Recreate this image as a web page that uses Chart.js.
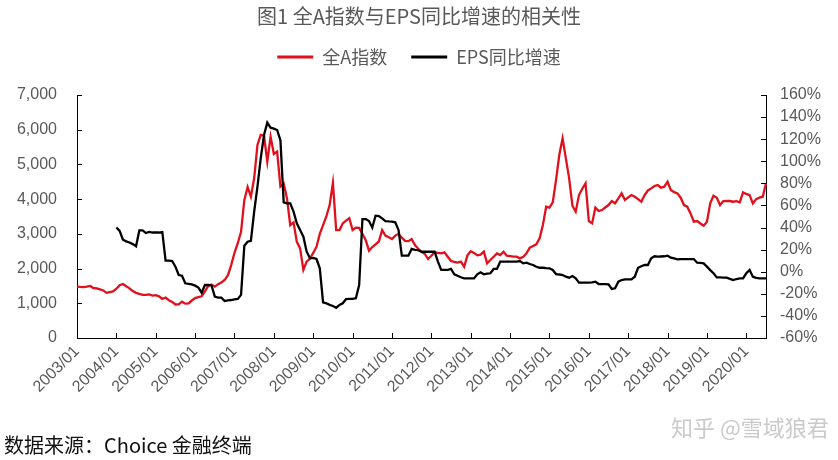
<!DOCTYPE html>
<html><head><meta charset="utf-8">
<script src="https://cdn.jsdelivr.net/npm/chart.js@4"></script>
<style>
html,body{margin:0;padding:0;background:#fff;}
#wrap{position:relative;width:838px;height:460px;overflow:hidden;}
canvas{position:absolute;left:0;top:0;}
.t{position:absolute;white-space:nowrap;font-family:"Noto Sans CJK SC",sans-serif;}
#title{left:0;width:838px;text-align:center;top:2px;font-size:20px;color:#595959;line-height:28px;}
#src{left:4px;top:431px;font-size:20px;color:#111;line-height:28px;}
#wm{left:671px;top:411px;font-size:22px;color:#cacaca;line-height:30px;}
</style></head><body>
<div id="wrap"><canvas id="c" width="838" height="460"></canvas>
<div class="t" id="title">图1 全A指数与EPS同比增速的相关性</div>
<div class="t" id="src">数据来源：Choice 金融终端</div>
<div class="t" id="wm">知乎 @雪域狼君</div></div>
<script>
// Month categories 2003/01 .. 2020/07
const months = [];
for (let y = 2003; y <= 2020; y++) {
  for (let m = 1; m <= 12; m++) {
    if (y === 2020 && m > 7) break;
    months.push(y + '/' + String(m).padStart(2, '0'));
  }
}

// 全A指数 (left axis)
const indexValues = [
  1478,1470,1465,1480,1500,1440,1430,1400,1370,1300,1320,1340,
  1420,1520,1555,1490,1430,1350,1300,1270,1245,1240,1255,1220,
  1235,1200,1125,1165,1090,1040,965,970,1045,990,1000,1080,
  1150,1180,1200,1340,1500,1540,1480,1550,1600,1670,1810,2100,
  2450,2730,3060,3970,4350,4070,4600,5560,5850,5830,5080,5800,
  5300,5370,4360,4450,4020,3250,3330,2770,2580,1960,2200,2290,
  2450,2630,3000,3250,3500,3830,4470,3110,3110,3300,3380,3450,
  3110,3180,3170,3000,2820,2515,2620,2700,2780,3110,2950,2900,
  2850,2950,3000,2890,2800,2790,2850,2680,2570,2480,2420,2275,
  2370,2467,2450,2438,2467,2342,2220,2190,2170,2198,2054,2380,
  2500,2450,2380,2400,2486,2150,2246,2340,2438,2390,2486,2371,
  2360,2342,2342,2294,2342,2438,2602,2650,2700,2870,3254,3782,
  3754,3907,4550,5270,5750,5174,4598,3811,3638,4118,4300,4454,
  3370,3302,3754,3658,3686,3760,3830,3946,3880,4022,4166,3974,
  4050,4118,4070,4000,3926,4118,4250,4310,4380,4406,4330,4358,
  4502,4262,4200,4166,4042,3830,3782,3590,3350,3370,3300,3235,
  3350,3878,4099,4042,3830,3946,3950,3946,3926,3940,3907,4195,
  4150,4118,3878,4000,4042,4070,4454
];

// EPS同比增速 (right axis, %)
const epsGrowth = [
  null,null,null,null,null,null,null,null,null,null,null,null,
  40,37,29,27.5,26.5,25,23,37.5,37.5,35,36,35.5,
  35.5,35.5,36,10,10,9.7,4.6,-3,-3.6,-10.5,-11,-11.5,
  -12.6,-14.4,-19,-12,-12,-12.5,-22.6,-23.5,-23.5,-26.5,-26,-25.6,
  -25,-24.7,-21,23.6,27.2,28,54.4,77,102.7,123.8,135,130.4,
  129.5,128.3,119,62.8,62,61.9,54.4,43.8,37.8,31.7,18.1,12.1,
  12.5,11.5,3.1,-27.7,-28.6,-30,-31,-32.6,-30,-28.6,-24.7,-24.5,
  -24.5,-24,-12,47.7,47.7,45.9,39.9,50.7,50.4,48.3,45.9,45.5,
  45.3,44.7,37.8,14.5,14.5,14.5,20.6,19.7,19.5,18.1,18.1,18.1,
  18.1,18.1,9.1,1.6,1.6,1.6,2.5,-2.3,-3.6,-5,-6,-6,
  -6,-6,-2.3,-0.5,-2.3,-1.8,-1.4,2.5,2.5,9.1,9.1,9.1,
  9.1,9.1,9.1,9.7,7.6,8.2,7,6.1,4.5,3.6,3.6,3.3,
  3.1,1.6,-2.1,-2.5,-3,-4.5,-5.4,-3.9,-6,-9.9,-9.9,-9.9,
  -9.9,-9.6,-9,-11.1,-11.2,-11.3,-11.4,-15.6,-15,-9,-7.5,-7,
  -6.9,-6.9,-4.5,3.6,5,6.1,6.1,12.1,14,13.6,13.8,14,
  14.5,12.7,12,11.2,11.5,11.5,11.5,11.5,11.5,8.2,8,7.6,
  4.6,1.5,-1.4,-5.1,-5.2,-5.3,-5.4,-6.5,-7.5,-6.6,-6,-6,
  -1.4,1.6,-4.5,-5.5,-6,-6,-6
];

const RED = '#E0101C';
const GREY = '#595959';
const NUM_FONT = 'Liberation Sans, Arial, sans-serif';
const CJK_FONT = '"Noto Sans CJK SC", sans-serif';

const innerTicks = {
  id: 'innerTicks',
  afterDraw(chart) {
    const {ctx, chartArea: a, scales} = chart;
    ctx.save();
    ctx.strokeStyle = '#000';
    ctx.lineWidth = 1;
    ctx.beginPath();
    scales.y.ticks.forEach(t => {
      const p = Math.round(scales.y.getPixelForValue(t.value)) + 0.5;
      ctx.moveTo(a.left, p); ctx.lineTo(a.left + 5, p);
    });
    scales.y1.ticks.forEach(t => {
      const p = Math.round(scales.y1.getPixelForValue(t.value)) + 0.5;
      ctx.moveTo(a.right, p); ctx.lineTo(a.right - 5, p);
    });
    months.forEach((m, i) => {
      if (m.endsWith('/01')) {
        const p = Math.round(scales.x.getPixelForValue(i)) + 0.5;
        ctx.moveTo(p, a.bottom); ctx.lineTo(p, a.bottom - 5);
      }
    });
    ctx.stroke();
    ctx.restore();
  }
};

new Chart(document.getElementById('c'), {
  type: 'line',
  data: {
    labels: months,
    datasets: [
      {label: '全A指数', data: indexValues, yAxisID: 'y', borderColor: RED, backgroundColor: RED,
       borderWidth: 2.3, pointRadius: 0, tension: 0, order: 1},
      {label: 'EPS同比增速', data: epsGrowth, yAxisID: 'y1', borderColor: '#000', backgroundColor: '#000',
       borderWidth: 2.3, pointRadius: 0, tension: 0, order: 0}
    ]
  },
  options: {
    responsive: false,
    animation: false,
    layout: {padding: {top: 24, left: 0, right: 0, bottom: 0}},
    plugins: {
      tooltip: {enabled: false},
      // empty spacer box between the legend and the plot area
      title: {display: true, text: '', weight: 500, position: 'top', padding: 0,
              font: {size: 19, lineHeight: 1}},
      legend: {
        display: true,
        position: 'top',
        labels: {
          boxWidth: 36, boxHeight: 3, padding: 24, color: GREY,
          font: {family: CJK_FONT, size: 18},
          sort: (a, b) => a.datasetIndex - b.datasetIndex,
          generateLabels: (chart) => Chart.defaults.plugins.legend.labels.generateLabels(chart)
            .map(l => Object.assign(l, {lineWidth: 0, fillStyle: l.strokeStyle}))
        }
      }
    },
    scales: {
      x: {
        type: 'category', offset: false,
        grid: {display: false, drawTicks: false},
        border: {display: true, color: '#000', width: 1},
        ticks: {
          autoSkip: false, maxRotation: 45, minRotation: 45, padding: 4, color: GREY,
          font: {family: NUM_FONT, size: 16},
          callback: (v, i) => months[i].endsWith('/01') ? months[i] : null
        },
        afterFit(s) { s.height = 122; }
      },
      y: {
        position: 'left', min: 0, max: 7000,
        grid: {display: false, drawTicks: false},
        border: {display: true, color: '#000', width: 1},
        ticks: {stepSize: 1000, autoSkip: false, padding: 20, color: GREY, font: {family: NUM_FONT, size: 16},
                callback: v => v.toLocaleString('en-US')},
        afterFit(s) { s.width = 77; }
      },
      y1: {
        position: 'right', min: -60, max: 160,
        grid: {display: false, drawTicks: false},
        border: {display: true, color: '#000', width: 1},
        ticks: {stepSize: 20, autoSkip: false, padding: 14, color: GREY, font: {family: NUM_FONT, size: 16},
                callback: v => v + '%'},
        afterFit(s) { s.width = 72; }
      }
    }
  },
  plugins: [innerTicks]
});
</script>
</body></html>
